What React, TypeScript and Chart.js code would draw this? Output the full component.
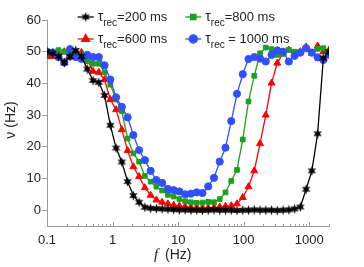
import React, { useEffect, useRef } from 'react';
import { Chart, registerables } from 'chart.js';
import { drawPoint } from 'chart.js/helpers';

Chart.register(...registerables);

// stimulation frequencies (Hz)
const frequencies = [
  0.1, 0.1224, 0.1498, 0.1834, 0.2245, 0.2748, 0.3364, 0.4118, 0.5041, 0.617,
  0.7553, 0.9246, 1.132, 1.385, 1.696, 2.076, 2.541, 3.11, 3.807, 4.66,
  5.705, 6.983, 8.548, 10.46, 12.81, 15.68, 19.19, 23.49, 28.76, 35.2,
  43.09, 52.75, 64.57, 79.04, 96.75, 118.4, 145.0, 177.5, 217.2, 265.9,
  325.5, 398.5, 487.8, 597.1, 730.9, 894.7, 1095, 1341, 1641, 2000,
];

const tau200 = [
  50, 49.5, 48.5, 46.5, 48.5, 50.4, 48.5, 44.5, 40.9, 40.3,
  36.2, 26.8, 19.6, 15.2, 9.0, 4.6, 2.5, 0.9, 0.6, 0.5,
  0.4, 0.3, 0.2, 0.1, 0.1, 0, 0, -0.1, 0, 0.1,
  0, 0, 0, -0.1, 0, 0, 0.1, 0, 0, 0,
  -0.1, 0, 0.1, 0.4, 1.0, 6.6, 12.4, 24.1, 48, 50,
];

const tau600 = [
  48.5, 48.5, 49, 50, 48.2, 49.5, 49.8, 47.4, 43.8, 43.5,
  41.2, 34.9, 31.7, 25.4, 18.8, 13.7, 10.6, 7.1, 4.7, 3.2,
  2.5, 2.0, 1.6, 1.3, 1.1, 0.9, 0.8, 0.7, 0.7, 0.8,
  1.0, 1.2, 1.4, 2.0, 4.0, 7.4, 12.4, 21.0, 30, 40.1,
  46.4, 49.5, 50.5, 49, 50, 51.5, 49.5, 51.8, 50, 50.5,
];

const tau800 = [
  49.5, 50, 50.5, 50, 49.5, 49.5, 49, 47, 46.2, 46.2,
  43.5, 39.6, 34.9, 31.2, 22.6, 17.9, 15.3, 10.8, 9.0, 7.4,
  6.2, 4.8, 4.3, 3.5, 2.8, 2.5, 2.3, 2.4, 2.6, 2.5,
  3.5, 5.6, 9.2, 12.7, 22.3, 34.3, 42.4, 49.5, 51.3, 50.8,
  49, 49.3, 50.6, 50, 50, 50.8, 50, 50.9, 51.1, 50,
];

const tau1000 = [
  50, 49.7, 48.3, 46.6, 50.8, 48.3, 47.7, 49, 48.3, 48.3,
  45.7, 41.2, 35.6, 32.6, 29.3, 23.7, 18.9, 15.8, 12.4, 9.5,
  8.6, 6.7, 6.3, 5.9, 5.0, 5.2, 5.6, 5.4, 7.5, 10.2,
  15.3, 19.7, 28.1, 36.7, 42.9, 47.7, 48.3, 47.8, 46.9, 49,
  50.4, 50, 46.9, 48.7, 49.7, 51.1, 49.7, 48.2, 47.4, 49,
];

const xMajorTicks = [0.1, 1, 10, 100, 1000];
const xTickLabels = ['0.1', '1', '10', '100', '1000'];
const yTicks = [0, 10, 20, 30, 40, 50, 60];
const legendValues = ['=200 ms', '=600 ms', '=800 ms', ' = 1000 ms'];

const COLORS = ['#000000', '#ff0000', '#1e9e1e', '#3050ff'];

function makeStar(): HTMLCanvasElement {
  const c = document.createElement('canvas');
  c.width = 11;
  c.height = 11;
  const g = c.getContext('2d')!;
  g.fillStyle = '#000';
  g.beginPath();
  const cx = 5.5, cy = 5.5, ro = 5, ri = 2.2;
  for (let i = 0; i < 12; i++) {
    const r = i % 2 === 0 ? ro : ri;
    const a = -Math.PI / 2 + (i * Math.PI) / 6;
    const px = cx + r * Math.cos(a);
    const py = cy + r * Math.sin(a);
    if (i === 0) g.moveTo(px, py);
    else g.lineTo(px, py);
  }
  g.closePath();
  g.fill();
  return c;
}

function majorIndex(v: number): number {
  return xMajorTicks.findIndex((m) => Math.abs(Math.log10(v) - Math.log10(m)) < 1e-6);
}

export default function App() {
  const ref = useRef<HTMLCanvasElement>(null);

  useEffect(() => {
    document.body.style.margin = '0';
    const star = makeStar();
    const series = [tau200, tau600, tau800, tau1000];
    const styles: any[] = [star, 'triangle', 'rect', 'circle'];
    const radii = [4.5, 4, 3.3, 3.6];
    const drawOrder = [0, 3, 2, 1];

    const datasets = series.map((vals, i) => ({
      label: legendValues[i],
      data: frequencies.map((f, k) => ({ x: f, y: vals[k] })),
      borderColor: COLORS[i],
      backgroundColor: COLORS[i],
      pointBackgroundColor: COLORS[i],
      pointBorderColor: COLORS[i],
      borderWidth: 1.3,
      pointBorderWidth: 1,
      pointStyle: styles[i],
      pointRadius: radii[i],
      tension: 0,
      order: drawOrder[i],
    }));

    const decor = {
      id: 'decor',
      afterDraw(chart: any) {
        const { ctx, chartArea, scales } = chart;
        const xs = scales.x;
        ctx.save();
        // inward ticks on x axis
        ctx.strokeStyle = '#9a9a9a';
        ctx.lineWidth = 1;
        xs.ticks.forEach((t: any) => {
          const px = Math.round(xs.getPixelForValue(t.value)) + 0.5;
          const len = majorIndex(t.value) >= 0 ? 4 : 2;
          ctx.beginPath();
          ctx.moveTo(px, chartArea.bottom);
          ctx.lineTo(px, chartArea.bottom - len);
          ctx.stroke();
        });

        // axis titles
        ctx.fillStyle = '#222';
        ctx.textBaseline = 'middle';
        ctx.textAlign = 'left';
        ctx.font = 'italic 15px "Liberation Serif"';
        ctx.fillText('f', 154, 255);
        const fw = ctx.measureText('f').width;
        ctx.font = '14px "Liberation Sans"';
        ctx.fillText(' (Hz)', 154 + fw + 3, 255);

        ctx.save();
        ctx.translate(11, 120);
        ctx.rotate(-Math.PI / 2);
        ctx.textAlign = 'center';
        ctx.font = '14px "Liberation Sans"';
        ctx.fillText('\u03BD (Hz)', 0, 0);
        ctx.restore();

        // legend
        const cols = [77.7, 185.3];
        const rows = [17, 39];
        const slots = [
          [0, 0],
          [0, 1],
          [1, 0],
          [1, 1],
        ];
        chart.data.datasets.forEach((ds: any, i: number) => {
          const [c, r] = slots[i];
          const x0 = cols[c];
          const y = rows[r];
          ctx.strokeStyle = ds.borderColor;
          ctx.fillStyle = ds.borderColor;
          ctx.lineWidth = 1.3;
          ctx.beginPath();
          ctx.moveTo(x0, y);
          ctx.lineTo(x0 + 16, y);
          ctx.stroke();
          drawPoint(
            ctx,
            { pointStyle: ds.pointStyle, radius: ds.pointRadius + 0.5, rotation: 0, borderWidth: 1 } as any,
            x0 + 8,
            y
          );
          ctx.fillStyle = '#222';
          ctx.textAlign = 'left';
          ctx.textBaseline = 'middle';
          ctx.font = '14px "Liberation Sans"';
          const tx = x0 + 20;
          ctx.fillText('\u03C4', tx, y);
          const tw = ctx.measureText('\u03C4').width;
          ctx.font = '10px "Liberation Sans"';
          ctx.fillText('rec', tx + tw, y + 6);
          const rw = ctx.measureText('rec').width;
          ctx.font = '13px "Liberation Sans"';
          ctx.fillText(ds.label, tx + tw + rw, y);
        });
        ctx.restore();
      },
    };

    const chart = new Chart(ref.current!, {
      type: 'line',
      data: { datasets },
      plugins: [decor],
      options: {
        animation: false,
        responsive: false,
        layout: { padding: { top: 20, right: 35, bottom: 0, left: 0 } },
        plugins: { legend: { display: false }, tooltip: { enabled: false } },
        scales: {
          x: {
            type: 'logarithmic',
            min: 0.1,
            max: 2000,
            afterFit: (s: any) => {
              s.height = 41;
            },
            afterBuildTicks: (s: any) => {
              const vals: number[] = [];
              xMajorTicks.forEach((d) => {
                for (let m = 1; m <= 9; m++) {
                  const v = d * m;
                  if (v <= 2000 + 1e-9) vals.push(v);
                }
              });
              s.ticks = vals.map((v) => ({ value: v }));
            },
            grid: { display: true, drawOnChartArea: false, tickLength: 3, tickColor: 'rgba(0,0,0,0)' },
            border: { display: true, color: '#9a9a9a', width: 1 },
            ticks: {
              autoSkip: false,
              maxRotation: 0,
              padding: 4,
              color: '#222',
              font: { family: 'Liberation Sans', size: 13 },
              callback: (v: any) => {
                const idx = majorIndex(Number(v));
                return idx >= 0 ? xTickLabels[idx] : '';
              },
            },
          },
          y: {
            type: 'linear',
            min: -5,
            max: 60,
            afterFit: (s: any) => {
              s.width = 47;
            },
            afterBuildTicks: (s: any) => {
              s.ticks = yTicks.map((v) => ({ value: v }));
            },
            grid: { display: true, drawOnChartArea: false, tickLength: 5, tickColor: '#9a9a9a' },
            border: { display: true, color: '#9a9a9a', width: 1 },
            ticks: {
              padding: 1,
              color: '#222',
              font: { family: 'Liberation Sans', size: 13 },
              callback: (v: any) => String(v),
            },
          },
        },
      },
    });
    return () => chart.destroy();
  }, []);

  return (
    <div style={{ width: 364, height: 267 }}>
      <canvas ref={ref} width={364} height={267} />
    </div>
  );
}
